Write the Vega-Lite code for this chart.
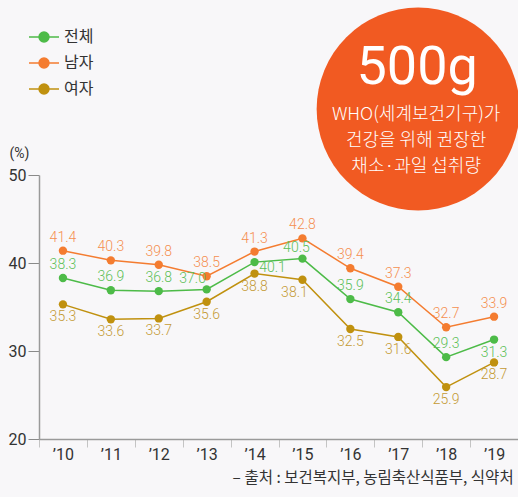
{
  "$schema": "https://vega.github.io/schema/vega-lite/v6.json",
  "width": 479,
  "height": 264,
  "autosize": "none",
  "padding": {"left": 39, "top": 175, "right": 0, "bottom": 58},
  "background": "#f8f7f9",
  "config": {"view": {"stroke": null}, "font": "Roboto"},
  "title": {
    "text": "– 출처 : 보건복지부, 농림축산식품부, 식약처",
    "orient": "bottom",
    "anchor": "end",
    "font": "Noto Sans CJK KR",
    "fontSize": 15.5,
    "fontWeight": "normal",
    "color": "#333333",
    "offset": 9,
    "dx": -6
  },
  "data": {
    "values": [
      {"year": "’10", "series": "전체", "value": 38.3},
      {"year": "’11", "series": "전체", "value": 36.9},
      {"year": "’12", "series": "전체", "value": 36.8},
      {"year": "’13", "series": "전체", "value": 37.0},
      {"year": "’14", "series": "전체", "value": 40.1},
      {"year": "’15", "series": "전체", "value": 40.5},
      {"year": "’16", "series": "전체", "value": 35.9},
      {"year": "’17", "series": "전체", "value": 34.4},
      {"year": "’18", "series": "전체", "value": 29.3},
      {"year": "’19", "series": "전체", "value": 31.3},
      {"year": "’10", "series": "남자", "value": 41.4},
      {"year": "’11", "series": "남자", "value": 40.3},
      {"year": "’12", "series": "남자", "value": 39.8},
      {"year": "’13", "series": "남자", "value": 38.5},
      {"year": "’14", "series": "남자", "value": 41.3},
      {"year": "’15", "series": "남자", "value": 42.8},
      {"year": "’16", "series": "남자", "value": 39.4},
      {"year": "’17", "series": "남자", "value": 37.3},
      {"year": "’18", "series": "남자", "value": 32.7},
      {"year": "’19", "series": "남자", "value": 33.9},
      {"year": "’10", "series": "여자", "value": 35.3},
      {"year": "’11", "series": "여자", "value": 33.6},
      {"year": "’12", "series": "여자", "value": 33.7},
      {"year": "’13", "series": "여자", "value": 35.6},
      {"year": "’14", "series": "여자", "value": 38.8},
      {"year": "’15", "series": "여자", "value": 38.1},
      {"year": "’16", "series": "여자", "value": 32.5},
      {"year": "’17", "series": "여자", "value": 31.6},
      {"year": "’18", "series": "여자", "value": 25.9},
      {"year": "’19", "series": "여자", "value": 28.7}
    ]
  },
  "encoding": {
    "x": {
      "field": "year",
      "type": "ordinal",
      "sort": null,
      "scale": {"type": "band", "domain": ["’10", "’11", "’12", "’13", "’14", "’15", "’16", "’17", "’18", "’19"], "paddingInner": 0, "paddingOuter": 0},
      "axis": {
        "title": null,
        "tickBand": "extent",
        "tickSize": 8,
        "tickColor": "#c4c4c4",
        "domainColor": "#9a9a9a",
        "domainWidth": 1.5,
        "labelFont": "Roboto",
        "labelFontSize": 16,
        "labelColor": "#333333",
        "labelPadding": -1,
        "labelAngle": 0
      }
    },
    "y": {
      "field": "value",
      "type": "quantitative",
      "scale": {"domain": [20, 50], "nice": false, "zero": false},
      "axis": {
        "values": [20, 30, 40, 50],
        "title": "(%)",
        "titleAngle": 0,
        "titleX": -20,
        "titleY": -22,
        "titleAlign": "center",
        "titleBaseline": "middle",
        "titleFont": "Roboto",
        "titleFontSize": 14,
        "titleFontWeight": "normal",
        "titleColor": "#333333",
        "grid": false,
        "tickSize": 11,
        "tickColor": "#8a8a8a",
        "domainColor": "#9a9a9a",
        "domainWidth": 1.5,
        "labelFont": "Roboto",
        "labelFontSize": 16,
        "labelPadding": 2,
        "labelColor": "#333333"
      }
    }
  },
  "layer": [
    {
      "mark": {"type": "line", "strokeWidth": 1.5},
      "encoding": {
        "color": {
          "field": "series",
          "type": "nominal",
          "scale": {"domain": ["전체", "남자", "여자"], "range": ["#4dbb48", "#f47c30", "#c0910f"]},
          "legend": {
            "orient": "none",
            "legendX": -11,
            "legendY": -146,
            "title": null,
            "padding": 0,
            "symbolType": "M-1,0L1,0M-0.33,0A0.33,0.33,0,1,1,0.33,0A0.33,0.33,0,1,1,-0.33,0Z",
            "symbolSize": 900,
            "symbolStrokeWidth": 1.5,
            "clipHeight": 16,
            "rowPadding": 10,
            "labelOffset": 4,
            "labelFont": "Noto Sans CJK KR",
            "labelFontSize": 16,
            "labelColor": "#333333",
            "encode": {
              "symbols": {
                "update": {
                  "fill": {"scale": "color", "field": "value"},
                  "stroke": {"scale": "color", "field": "value"},
                  "fillOpacity": {"value": 1},
                  "opacity": {"value": 1}
                }
              }
            }
          }
        }
      }
    },
    {
      "mark": {"type": "point", "shape": "circle", "filled": true, "size": 70, "opacity": 1},
      "encoding": {
        "color": {"field": "series", "type": "nominal", "legend": null}
      }
    },
    {
      "transform": [{"filter": "datum.series === '남자'"}],
      "mark": {"type": "text", "font": "Roboto", "fontSize": 14, "fontWeight": 300, "color": "#f58f50", "baseline": "middle", "dy": -13},
      "encoding": {"text": {"field": "value", "type": "quantitative", "format": ".1f"}}
    },
    {
      "transform": [{"filter": "datum.series === '전체' && indexof(['’13','’14','’15','’19'], datum.year) < 0"}],
      "mark": {"type": "text", "font": "Roboto", "fontSize": 14, "fontWeight": 300, "color": "#5cbf57", "baseline": "middle", "dy": -13},
      "encoding": {"text": {"field": "value", "type": "quantitative", "format": ".1f"}}
    },
    {
      "transform": [{"filter": "datum.series === '전체' && datum.year === '’13'"}],
      "mark": {"type": "text", "font": "Roboto", "fontSize": 14, "fontWeight": 300, "color": "#5cbf57", "baseline": "middle", "dy": -10, "dx": -14},
      "encoding": {"text": {"field": "value", "type": "quantitative", "format": ".1f"}}
    },
    {
      "transform": [{"filter": "datum.series === '전체' && datum.year === '’14'"}],
      "mark": {"type": "text", "font": "Roboto", "fontSize": 14, "fontWeight": 300, "color": "#5cbf57", "baseline": "middle", "dy": 6, "dx": 18},
      "encoding": {"text": {"field": "value", "type": "quantitative", "format": ".1f"}}
    },
    {
      "transform": [{"filter": "datum.series === '전체' && datum.year === '’15'"}],
      "mark": {"type": "text", "font": "Roboto", "fontSize": 14, "fontWeight": 300, "color": "#5cbf57", "baseline": "middle", "dy": -11, "dx": -6},
      "encoding": {"text": {"field": "value", "type": "quantitative", "format": ".1f"}}
    },
    {
      "transform": [{"filter": "datum.series === '전체' && datum.year === '’19'"}],
      "mark": {"type": "text", "font": "Roboto", "fontSize": 14, "fontWeight": 300, "color": "#5cbf57", "baseline": "middle", "dy": 13},
      "encoding": {"text": {"field": "value", "type": "quantitative", "format": ".1f"}}
    },
    {
      "transform": [{"filter": "datum.series === '여자' && datum.year !== '’15'"}],
      "mark": {"type": "text", "font": "Roboto", "fontSize": 14, "fontWeight": 300, "color": "#c49a35", "baseline": "middle", "dy": 13},
      "encoding": {"text": {"field": "value", "type": "quantitative", "format": ".1f"}}
    },
    {
      "transform": [{"filter": "datum.series === '여자' && datum.year === '’15'"}],
      "mark": {"type": "text", "font": "Roboto", "fontSize": 14, "fontWeight": 300, "color": "#c49a35", "baseline": "middle", "dy": 13, "dx": -8},
      "encoding": {"text": {"field": "value", "type": "quantitative", "format": ".1f"}}
    },
    {
      "transform": [{"filter": "datum.series === '전체' && datum.year === '’18'"}],
      "mark": {"type": "point", "shape": "circle", "filled": true, "size": 41209, "color": "#f15a22", "opacity": 1, "xOffset": -28},
      "encoding": {
        "y": {"datum": 57.5, "type": "quantitative"}
      }
    },
    {
      "transform": [{"filter": "datum.series === '전체' && datum.year === '’18'"}],
      "mark": {"type": "text", "text": "500g", "font": "Roboto", "fontSize": 54, "color": "#ffffff", "baseline": "middle", "align": "center", "dx": -29},
      "encoding": {
        "y": {"datum": 62.2, "type": "quantitative"}
      }
    },
    {
      "transform": [{"filter": "datum.series === '전체' && datum.year === '’18'"}],
      "mark": {"type": "text", "text": ["WHO(세계보건기구)가", "건강을 위해 권장한", "채소·과일 섭취량"], "font": "Noto Sans CJK KR", "fontSize": 18, "fontWeight": 300, "lineHeight": 26, "color": "#ffffff", "baseline": "middle", "align": "center", "dx": -30},
      "encoding": {
        "y": {"datum": 56.8, "type": "quantitative"}
      }
    }
  ]
}
